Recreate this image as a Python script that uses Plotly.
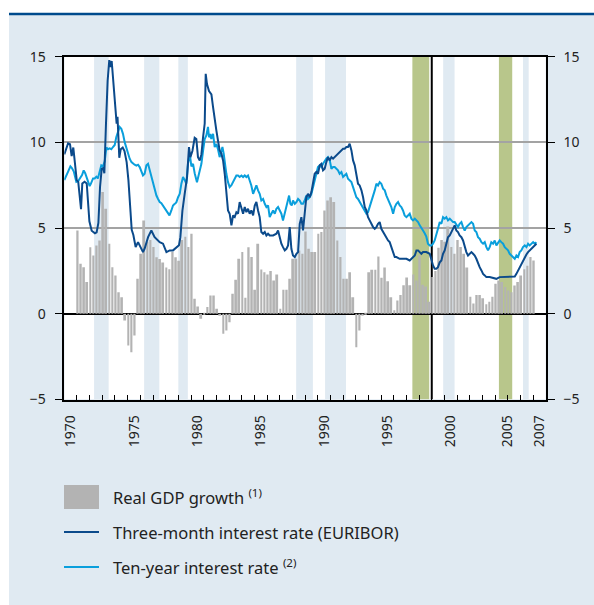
import plotly.graph_objects as go

# ---------------- data ----------------
# Real GDP growth, quarterly, starting 1971 Q1 (%)
gdp_start_year = 1971
gdp_growth = [
    4.86, 2.92, 2.72, 1.85, 3.89, 3.40, 3.99, 4.28,      # 1971-72
    7.10, 6.13, 4.09, 2.72, 2.24, 1.26, 0.97, -0.39,     # 1973-74
    -1.85, -2.24, -1.26, 2.04, 3.50, 5.45, 4.20, 4.30,   # 1975-76
    3.90, 3.30, 3.20, 3.00, 2.70, 2.60, 3.60, 3.30,      # 1977-78
    3.10, 4.30, 4.50, 3.90, 4.67, 0.88, 0.43, -0.29,     # 1979-80
    0.05, 0.39, 1.07, 1.07, 0.29, -0.10, -1.17, -0.97,   # 1981-82
    -0.49, 1.17, 1.98, 3.21, 3.60, 0.93, 3.89, 3.31,     # 1983-84
    1.40, 4.09, 2.59, 2.43, 2.30, 2.50, 1.95, 2.30,      # 1985-86
    0.29, 1.40, 1.40, 2.04, 3.21, 3.21, 3.70, 3.50,      # 1987-88
    4.80, 3.80, 3.60, 3.60, 4.67, 4.77, 6.03, 6.61,      # 1989-90
    6.80, 6.52, 4.28, 3.31, 2.04, 2.04, 2.43, 0.97,      # 1991-92
    -1.95, -0.97, -0.10, 0.05, 2.43, 2.57, 2.57, 3.35,   # 1993-94
    2.10, 2.70, 1.90, 0.97, 0.20, 0.78, 1.10, 1.67,      # 1995-96
    2.12, 1.67, 2.30, 1.95, 3.40, 1.70, 1.60, 0.70,      # 1997-98
    2.14, 2.50, 3.85, 4.30, 4.20, 5.10, 3.90, 3.50,      # 1999-2000
    4.30, 3.90, 3.50, 2.70, 1.00, 0.60, 1.10, 1.10,      # 2001-02
    0.90, 0.55, 0.70, 1.00, 1.75, 1.95, 1.85, 1.56,      # 2003-04
    1.36, 1.26, 1.65, 1.85, 2.24, 2.60, 2.80, 3.31,      # 2005-06
    3.11,                                                # 2007 Q1
]

# Three-month interest rate (EURIBOR), %
rate_3m_t = [
    1970.00, 1970.30, 1970.45, 1970.58, 1970.71, 1970.84, 1970.98, 1971.10, 1971.24, 1971.32,
    1971.42, 1971.60, 1971.77, 1971.84, 1971.98, 1972.16, 1972.42, 1972.55, 1972.69, 1972.82,
    1972.95, 1973.08, 1973.16, 1973.29, 1973.42, 1973.55, 1973.64, 1973.74, 1973.87, 1974.00,
    1974.13, 1974.20, 1974.27, 1974.34, 1974.45, 1974.61, 1974.75, 1974.92, 1975.06, 1975.19,
    1975.32, 1975.45, 1975.63, 1975.82, 1976.00, 1976.21, 1976.34, 1976.61, 1976.87, 1977.13,
    1977.53, 1977.79, 1978.06, 1978.32, 1978.58, 1978.84, 1979.05, 1979.16, 1979.32, 1979.50,
    1979.69, 1979.84, 1979.95, 1980.11, 1980.29, 1980.42, 1980.55, 1980.69, 1980.82, 1980.95,
    1981.08, 1981.16, 1981.26, 1981.42, 1981.61, 1981.74, 1981.87, 1982.00, 1982.13, 1982.26,
    1982.40, 1982.53, 1982.66, 1982.79, 1982.92, 1983.05, 1983.19, 1983.32, 1983.45, 1983.58,
    1983.71, 1983.84, 1983.98, 1984.11, 1984.24, 1984.37, 1984.50, 1984.63, 1984.76, 1984.90,
    1985.03, 1985.16, 1985.29, 1985.42, 1985.55, 1985.69, 1985.82, 1985.95, 1986.08, 1986.21,
    1986.48, 1986.74, 1986.87, 1987.00, 1987.13, 1987.26, 1987.40, 1987.53, 1987.66, 1987.79,
    1987.92, 1988.05, 1988.19, 1988.32, 1988.45, 1988.58, 1988.71, 1988.84, 1988.97, 1989.10,
    1989.23, 1989.37, 1989.50, 1989.63, 1989.76, 1989.89, 1990.02, 1990.16, 1990.29, 1990.42,
    1990.55, 1990.68, 1990.81, 1990.95, 1991.08, 1991.21, 1991.34, 1991.47, 1991.60, 1991.73,
    1991.87, 1992.00, 1992.13, 1992.26, 1992.39, 1992.52, 1992.66, 1992.79, 1992.92, 1993.05,
    1993.18, 1993.31, 1993.45, 1993.58, 1993.71, 1993.84, 1993.97, 1994.10, 1994.23, 1994.37,
    1994.50, 1994.63, 1994.76, 1994.89, 1995.02, 1995.16, 1995.29, 1995.42, 1995.55, 1995.68,
    1995.81, 1995.95, 1996.08, 1996.21, 1996.47, 1996.73, 1997.00, 1997.26, 1997.52, 1997.66,
    1997.79, 1997.92, 1998.05, 1998.18, 1998.31, 1998.47, 1998.57, 1998.84, 1998.97, 1999.10,
    1999.23, 1999.36, 1999.49, 1999.63, 1999.76, 1999.89, 2000.02, 2000.15, 2000.28, 2000.42,
    2000.55, 2000.68, 2000.81, 2000.94, 2001.07, 2001.20, 2001.34, 2001.47, 2001.60, 2001.73,
    2001.86, 2001.99, 2002.13, 2002.26, 2002.39, 2002.52, 2002.65, 2002.78, 2002.92, 2003.05,
    2003.18, 2003.31, 2003.57, 2003.84, 2004.10, 2004.36, 2004.63, 2004.89, 2005.15, 2005.42,
    2005.55, 2005.68, 2005.81, 2005.94, 2006.07, 2006.20, 2006.34, 2006.47, 2006.60, 2006.73,
    2006.86, 2007.00, 2007.13, 2007.26,
]
rate_3m = [
    9.30, 9.95, 9.90, 9.20, 9.70, 8.75, 7.80, 7.70, 6.40, 6.10,
    7.60, 7.70, 7.60, 6.80, 5.40, 4.85, 4.70, 4.75, 5.30, 7.40,
    8.45, 8.50, 8.20, 11.10, 13.60, 14.80, 14.40, 14.75, 13.60, 12.25,
    11.10, 11.50, 10.60, 9.10, 9.60, 9.70, 9.50, 8.85, 7.80, 6.20,
    4.90, 4.60, 3.90, 4.18, 3.90, 3.60, 3.80, 4.47, 4.86, 4.47,
    4.18, 4.09, 3.60, 3.70, 3.70, 3.89, 4.00, 4.47, 6.00, 7.00,
    7.98, 9.73, 9.14, 9.50, 10.27, 10.20, 9.14, 8.95, 9.30, 10.30,
    11.10, 14.00, 13.40, 13.00, 12.80, 12.06, 11.20, 10.70, 10.10, 9.53,
    9.34, 8.95, 8.17, 7.20, 6.03, 5.84, 5.16, 5.74, 5.65, 5.93,
    5.84, 6.52, 6.13, 5.84, 6.23, 5.93, 6.13, 5.84, 6.03, 5.74,
    6.32, 6.52, 6.03, 5.64, 4.77, 4.67, 4.77, 4.57, 4.67, 4.57,
    4.57, 4.67, 4.86, 4.47, 4.09, 3.89, 3.70, 3.79, 3.99, 5.06,
    3.79, 3.40, 3.31, 3.50, 3.60, 5.25, 5.64, 4.86, 5.84, 6.80,
    7.00, 6.80, 7.10, 7.59, 8.17, 8.27, 8.17, 8.66, 8.75, 8.37,
    8.46, 8.85, 9.14, 8.95, 9.14, 9.05, 9.14, 9.24, 9.34, 9.44,
    9.53, 9.63, 9.63, 9.73, 9.73, 9.92, 9.53, 8.95, 8.66, 8.17,
    7.59, 7.49, 7.20, 6.80, 6.23, 6.03, 5.64, 5.45, 5.25, 5.06,
    4.96, 5.06, 5.25, 5.35, 4.96, 4.77, 4.57, 4.47, 4.28, 4.18,
    3.89, 3.50, 3.31, 3.31, 3.21, 3.21, 3.21, 3.11, 3.31, 3.40,
    3.70, 3.70, 3.60, 3.50, 3.60, 3.60, 3.60, 3.50, 3.11, 2.82,
    2.63, 2.63, 2.72, 3.00, 3.11, 3.50, 3.70, 4.18, 4.47, 4.57,
    4.77, 5.06, 5.16, 4.86, 4.77, 4.57, 4.47, 4.28, 3.89, 3.60,
    3.40, 3.50, 3.60, 3.50, 3.40, 3.21, 2.92, 2.72, 2.53, 2.33,
    2.24, 2.14, 2.14, 2.10, 2.04, 2.14, 2.14, 2.18, 2.14, 2.14,
    2.18, 2.33, 2.53, 2.72, 2.92, 3.11, 3.30, 3.46, 3.60, 3.70,
    3.79, 3.89, 3.99, 4.09,
]

# Ten-year interest rate, %
rate_10y_t = [
    1970.00, 1970.15, 1970.30, 1970.48, 1970.60, 1970.75, 1970.95, 1971.10, 1971.25, 1971.40,
    1971.53, 1971.65, 1971.79, 1972.00, 1972.10, 1972.27, 1972.40, 1972.53, 1972.65, 1972.79,
    1972.92, 1973.05, 1973.19, 1973.32, 1973.45, 1973.58, 1973.71, 1973.84, 1973.98, 1974.10,
    1974.24, 1974.37, 1974.50, 1974.63, 1974.77, 1974.90, 1975.03, 1975.16, 1975.30, 1975.42,
    1975.55, 1975.69, 1975.82, 1975.95, 1976.10, 1976.21, 1976.34, 1976.48, 1976.61, 1976.74,
    1976.87, 1977.00, 1977.13, 1977.27, 1977.40, 1977.53, 1977.66, 1977.79, 1977.93, 1978.06,
    1978.20, 1978.30, 1978.45, 1978.58, 1978.70, 1978.84, 1978.98, 1979.11, 1979.24, 1979.37,
    1979.50, 1979.63, 1979.76, 1979.90, 1980.03, 1980.16, 1980.29, 1980.47, 1980.63, 1980.82,
    1980.95, 1981.08, 1981.21, 1981.34, 1981.42, 1981.53, 1981.60, 1981.74, 1981.87, 1982.00,
    1982.13, 1982.26, 1982.40, 1982.48, 1982.58, 1982.66, 1982.79, 1982.92, 1983.05, 1983.19,
    1983.32, 1983.45, 1983.58, 1983.71, 1983.84, 1983.98, 1984.11, 1984.24, 1984.37, 1984.50,
    1984.63, 1984.76, 1984.90, 1985.03, 1985.16, 1985.29, 1985.42, 1985.55, 1985.69, 1985.82,
    1985.95, 1986.08, 1986.21, 1986.34, 1986.48, 1986.61, 1986.74, 1986.87, 1987.00, 1987.13,
    1987.26, 1987.40, 1987.53, 1987.66, 1987.74, 1987.84, 1987.95, 1988.05, 1988.19, 1988.32,
    1988.45, 1988.58, 1988.71, 1988.84, 1988.97, 1989.10, 1989.23, 1989.37, 1989.50, 1989.63,
    1989.76, 1989.89, 1990.02, 1990.16, 1990.29, 1990.42, 1990.55, 1990.68, 1990.81, 1990.95,
    1991.08, 1991.21, 1991.34, 1991.47, 1991.60, 1991.73, 1991.87, 1992.00, 1992.13, 1992.26,
    1992.39, 1992.52, 1992.66, 1992.79, 1992.92, 1993.05, 1993.18, 1993.31, 1993.45, 1993.58,
    1993.71, 1993.84, 1993.97, 1994.10, 1994.23, 1994.37, 1994.50, 1994.63, 1994.76, 1994.89,
    1995.02, 1995.16, 1995.29, 1995.42, 1995.55, 1995.68, 1995.81, 1995.95, 1996.08, 1996.21,
    1996.34, 1996.47, 1996.60, 1996.73, 1996.86, 1997.00, 1997.13, 1997.26, 1997.39, 1997.52,
    1997.66, 1997.79, 1997.92, 1998.05, 1998.18, 1998.31, 1998.44, 1998.57, 1998.70, 1998.84,
    1998.97, 1999.10, 1999.23, 1999.36, 1999.49, 1999.63, 1999.76, 1999.89, 2000.02, 2000.15,
    2000.28, 2000.42, 2000.55, 2000.68, 2000.81, 2000.94, 2001.07, 2001.20, 2001.34, 2001.47,
    2001.60, 2001.73, 2001.86, 2001.99, 2002.13, 2002.26, 2002.39, 2002.52, 2002.65, 2002.78,
    2002.92, 2003.05, 2003.18, 2003.31, 2003.44, 2003.57, 2003.70, 2003.84, 2003.97, 2004.10,
    2004.23, 2004.36, 2004.49, 2004.63, 2004.76, 2004.89, 2005.02, 2005.15, 2005.28, 2005.42,
    2005.55, 2005.68, 2005.81, 2005.94, 2006.07, 2006.20, 2006.34, 2006.47, 2006.60, 2006.73,
    2006.86, 2007.00, 2007.13, 2007.26,
]
rate_10y = [
    7.80, 8.10, 8.30, 8.60, 8.50, 8.30, 7.70, 7.75, 7.90, 8.10,
    8.37, 8.20, 7.90, 7.45, 7.60, 7.90, 7.90, 8.00, 7.90, 8.30,
    8.66, 8.60, 8.90, 9.70, 9.60, 9.65, 9.60, 9.73, 9.85, 10.30,
    10.70, 10.90, 10.80, 10.50, 10.00, 9.63, 9.35, 9.05, 8.85, 8.75,
    8.70, 8.65, 8.70, 8.56, 8.30, 8.07, 8.17, 8.66, 8.75, 8.40,
    8.00, 7.59, 7.20, 6.90, 6.70, 6.52, 6.45, 6.30, 6.15, 6.03,
    5.80, 5.74, 6.03, 6.32, 6.40, 6.50, 6.80, 7.00, 7.59, 7.98,
    7.80, 7.59, 8.75, 9.34, 8.60, 8.75, 8.20, 7.68, 8.17, 8.75,
    9.50, 10.20, 10.40, 10.90, 10.30, 10.50, 10.20, 10.50, 9.73, 9.90,
    9.60, 9.14, 9.53, 9.73, 9.34, 8.75, 8.17, 7.68, 7.39, 7.50,
    7.68, 7.90, 8.07, 8.07, 7.98, 8.07, 7.98, 8.07, 7.98, 8.07,
    7.78, 7.49, 7.00, 7.20, 7.49, 7.20, 7.00, 6.61, 6.70, 6.42,
    6.23, 6.32, 5.64, 5.84, 6.03, 5.84, 6.13, 6.23, 6.03, 5.84,
    5.45, 5.84, 6.23, 6.52, 6.90, 6.42, 6.32, 6.61, 6.42, 6.52,
    6.70, 6.61, 6.42, 6.42, 6.61, 6.90, 6.70, 6.80, 7.00, 7.39,
    7.78, 8.07, 8.56, 8.66, 8.56, 8.75, 8.95, 9.05, 9.14, 8.95,
    8.46, 8.56, 8.56, 8.46, 8.37, 8.17, 8.27, 7.98, 8.07, 8.17,
    7.88, 7.78, 7.68, 7.39, 7.10, 6.80, 6.70, 6.52, 6.32, 6.13,
    6.03, 5.84, 5.93, 6.23, 6.52, 6.80, 7.20, 7.59, 7.49, 7.68,
    7.59, 7.30, 7.20, 6.90, 6.70, 6.42, 6.23, 5.84, 6.23, 6.42,
    6.52, 6.32, 6.23, 6.03, 5.74, 5.64, 5.74, 5.84, 5.55, 5.45,
    5.55, 5.45, 5.35, 5.16, 4.96, 4.86, 4.70, 4.50, 4.09, 3.99,
    3.99, 4.09, 4.28, 4.57, 4.96, 5.35, 5.25, 5.64, 5.55, 5.64,
    5.45, 5.55, 5.45, 5.35, 5.35, 5.16, 5.06, 5.25, 5.35, 5.06,
    4.86, 5.06, 5.16, 5.25, 5.35, 5.25, 4.86, 4.77, 4.47, 4.38,
    4.18, 4.09, 4.18, 3.89, 3.70, 3.89, 4.18, 4.09, 4.28, 3.99,
    4.18, 4.28, 4.18, 4.09, 3.89, 3.79, 3.70, 3.50, 3.40, 3.31,
    3.21, 3.40, 3.31, 3.60, 3.70, 3.89, 3.99, 3.89, 4.09, 3.99,
    4.09, 4.18, 4.09, 4.18,
]

# shaded periods (years)
blue_periods = [(1972.35, 1973.5), (1976.3, 1977.5), (1979.0, 1979.75), (1988.3, 1989.62),
                (1990.58, 1992.23), (1999.9, 2000.8), (2006.2, 2006.65)]
green_periods = [(1997.47, 1998.8), (2004.3, 2005.35)]
euro_start = 1999.0

x_tick_labels = ["1970", "1975", "1980", "1985", "1990", "1995", "2000", "2005", "2007"]
x_label_pos = [1970.5, 1975.5, 1980.5, 1985.5, 1990.5, 1995.5, 2000.5, 2005.0, 2007.5]
y_ticks = [-5, 0, 5, 10, 15]

legend_labels = ["Real GDP growth <sup>(1)</sup>",
                 "Three-month interest rate (EURIBOR)",
                 "Ten-year interest rate <sup>(2)</sup>"]

# ---------------- style ----------------
W, H = 594, 605
BG = "#e0eaf2"
DARK = "#0b4a8b"
LIGHT = "#0a9fdc"
GREY = "#b3b3b3"
GREEN = "#b8c68b"
BAND = "#e0eaf2"
FONT = "Noto Sans"
TXT = "#222222"

PL, PR, PT, PB = 64.3, 545.8, 56.7, 399.5


def fx(px):
    return px / W


def fy(py):
    return 1 - py / H


gdp_x = [gdp_start_year + 0.05 + 0.25 * i for i in range(len(gdp_growth))]

fig = go.Figure()
fig.add_trace(go.Bar(x=gdp_x, y=gdp_growth, width=0.15, marker=dict(color=GREY, line=dict(width=0)),
                     showlegend=False, hoverinfo="skip"))
fig.add_trace(go.Scatter(x=rate_10y_t, y=rate_10y, mode="lines", line=dict(color=LIGHT, width=2),
                         showlegend=False))
fig.add_trace(go.Scatter(x=rate_3m_t, y=rate_3m, mode="lines", line=dict(color=DARK, width=2),
                         showlegend=False))
# helper trace so that the secondary (label) axes are drawn
fig.add_trace(go.Scatter(x=[1990], y=[0], xaxis="x2", yaxis="y2", mode="markers",
                         marker=dict(opacity=0), showlegend=False, hoverinfo="skip"))

shapes = []
# light panel below the dark top rule (page itself is white)
shapes.append(dict(type="rect", xref="paper", yref="paper", x0=fx(9), x1=1.05, y0=-0.05, y1=fy(14),
                   fillcolor=BG, line=dict(width=0), layer="below"))
shapes.append(dict(type="line", xref="paper", yref="paper", x0=fx(9), x1=1.05, y0=fy(14), y1=fy(14),
                   line=dict(color="#004b8d", width=2.5), layer="above"))
# white plotting area
shapes.append(dict(type="rect", xref="x", yref="y", x0=1970, x1=2008, y0=-5, y1=15,
                   fillcolor="white", line=dict(width=0), layer="below"))
for a, b in blue_periods:
    shapes.append(dict(type="rect", xref="x", yref="y", x0=a, x1=b, y0=-5, y1=15,
                       fillcolor=BAND, line=dict(width=0), layer="below"))
for a, b in green_periods:
    shapes.append(dict(type="rect", xref="x", yref="y", x0=a, x1=b, y0=-5, y1=15,
                       fillcolor=GREEN, line=dict(width=0), layer="below"))
shapes.append(dict(type="line", xref="x", yref="y", x0=euro_start, x1=euro_start, y0=-5, y1=15,
                   line=dict(color="black", width=2), layer="between"))

# custom legend
shapes.append(dict(type="rect", xref="paper", yref="paper", x0=fx(64), x1=fx(99), y0=fy(509), y1=fy(485),
                   fillcolor=GREY, line=dict(width=0)))
shapes.append(dict(type="line", xref="paper", yref="paper", x0=fx(64), x1=fx(99), y0=fy(532), y1=fy(532),
                   line=dict(color=DARK, width=2)))
shapes.append(dict(type="line", xref="paper", yref="paper", x0=fx(64), x1=fx(99), y0=fy(567), y1=fy(567),
                   line=dict(color=LIGHT, width=2)))
annotations = []
for lbl, yy in zip(legend_labels, [497, 532, 567]):
    annotations.append(dict(text=lbl, xref="paper", yref="paper", x=fx(111), y=fy(yy),
                            xanchor="left", yanchor="middle", showarrow=False,
                            font=dict(family=FONT, size=16.5, color=TXT)))

axis_font = dict(family=FONT, size=14, color=TXT)
fig.update_layout(
    width=W, height=H,
    margin=dict(l=0, r=0, t=0, b=0, pad=0, autoexpand=False),
    paper_bgcolor="white", plot_bgcolor="white",
    barmode="overlay",
    shapes=shapes, annotations=annotations,
    showlegend=False,
    xaxis=dict(domain=[fx(PL), fx(PR)], range=[1970, 2008], tickmode="array",
               tickvals=list(range(1970, 2009)), ticks="inside", ticklen=5, tickwidth=1.3,
               tickcolor="black", showticklabels=False, showgrid=False, zeroline=False,
               showline=True, linecolor="black", linewidth=1.5, mirror=True, automargin=False),
    xaxis2=dict(overlaying="x", anchor="y", side="bottom", range=[1970, 2008], tickmode="array",
                tickvals=x_label_pos, ticktext=x_tick_labels, tickangle=-90, ticks="",
                showgrid=False, zeroline=False, showline=False, tickfont=axis_font,
                ticklabelstandoff=12, automargin=False),
    yaxis=dict(domain=[fy(PB), fy(PT)], range=[-5, 15], tickmode="array", tickvals=y_ticks,
               ticks="outside", ticklen=8, tickwidth=1.3, tickcolor="black",
               showgrid=True, gridcolor="#a3a3a3", gridwidth=1.5,
               zeroline=True, zerolinecolor="black", zerolinewidth=1.5,
               showline=True, linecolor="black", linewidth=1.5, mirror=True,
               tickfont=axis_font, ticklabelstandoff=6, automargin=False),
    yaxis2=dict(overlaying="y", anchor="x", side="right", range=[-5, 15], tickmode="array",
                tickvals=y_ticks, ticks="outside", ticklen=8, tickwidth=1.3, tickcolor="black",
                showgrid=False, zeroline=False, showline=False, tickfont=axis_font,
                ticklabelstandoff=6, automargin=False),
)

fig.write_html("out.html", config={"displayModeBar": False},
               post_script="document.body.style.margin='0px';document.body.style.overflow='hidden';")
